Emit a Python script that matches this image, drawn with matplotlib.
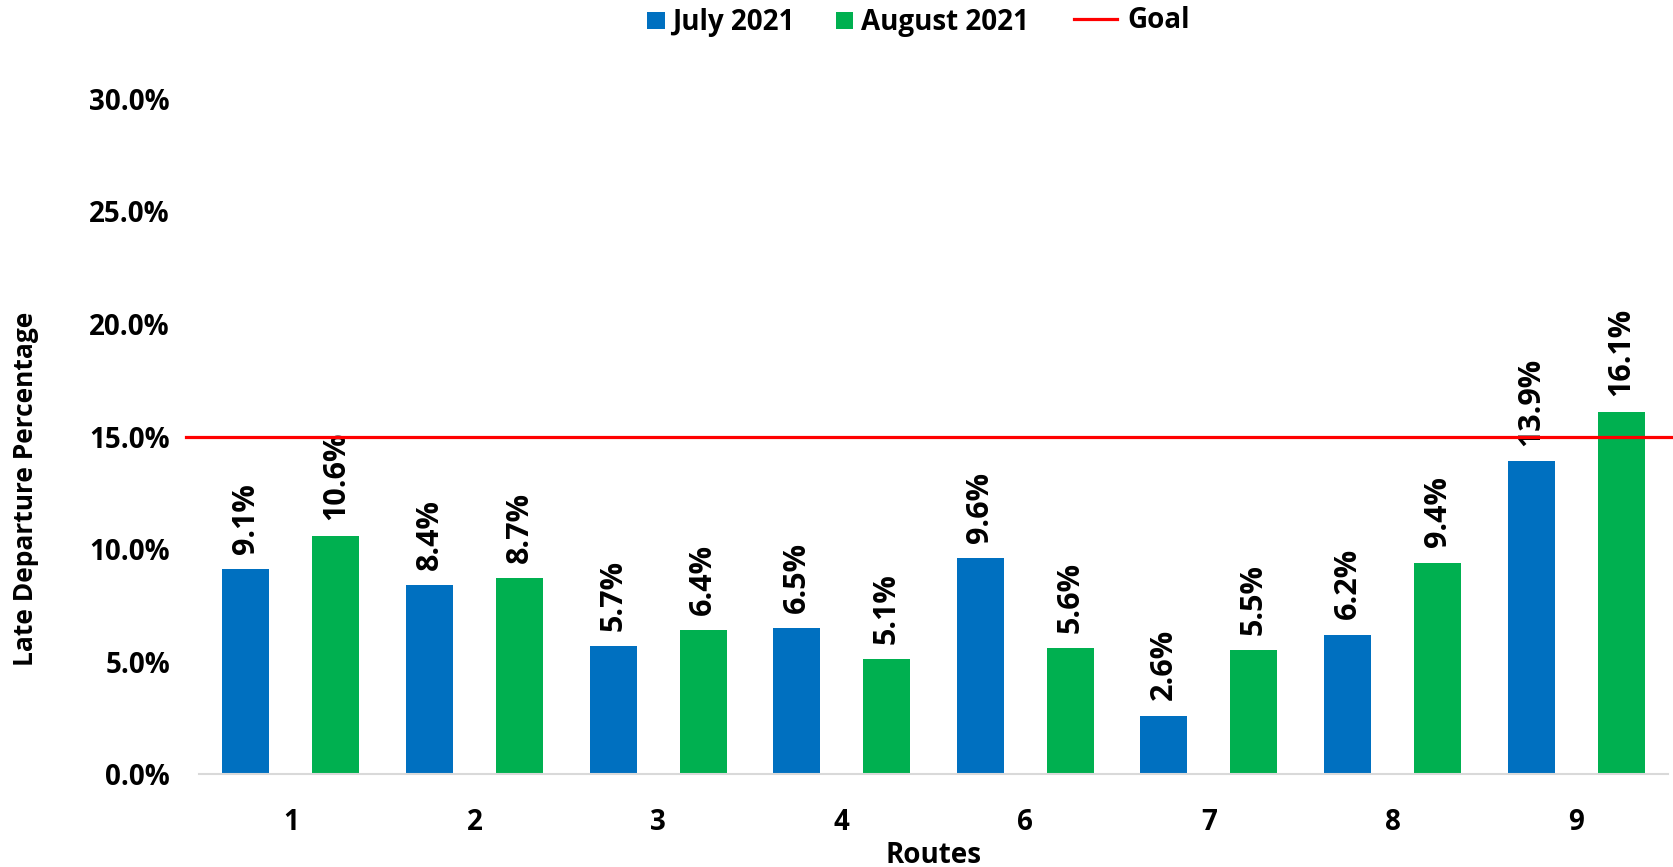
import matplotlib
matplotlib.use("Agg")
import matplotlib.pyplot as plt
from matplotlib.patches import Patch, Rectangle
from matplotlib.lines import Line2D
from matplotlib.legend_handler import HandlerPatch
import numpy as np

routes = ["1", "2", "3", "4", "6", "7", "8", "9"]
july = [9.1, 8.4, 5.7, 6.5, 9.6, 2.6, 6.2, 13.9]
august = [10.6, 8.7, 6.4, 5.1, 5.6, 5.5, 9.4, 16.1]
goal = 15.0
yticks = [0, 5, 10, 15, 20, 25, 30]

plt.rcParams['font.family'] = ['Open Sans', 'DejaVu Sans']
plt.rcParams['font.weight'] = 'bold'

BLUE = "#0070c0"
GREEN = "#00b050"
RED = "#ff0000"
FS = 20


class SquareHandler(HandlerPatch):
    def create_artists(self, legend, orig_handle, xdescent, ydescent,
                       width, height, fontsize, trans):
        s = 12.3
        p = Rectangle((-xdescent + width - s, -ydescent + (height - s) / 2), s, s,
                      facecolor=orig_handle.get_facecolor(), edgecolor="none",
                      transform=trans)
        return [p]


fig = plt.figure(figsize=(16.73, 8.67), dpi=100)
ax = fig.add_axes([0.119, 0.107, 0.878, 0.779])

x = np.arange(len(routes))
off = 0.245
w = 0.256
b1 = ax.bar(x - off, july, w, color=BLUE, zorder=2)
b2 = ax.bar(x + off, august, w, color=GREEN, zorder=2)

for bars, vals in ((b1, july), (b2, august)):
    for r, v in zip(bars, vals):
        ax.annotate(f"{v:.1f}%", (r.get_x() + r.get_width() / 2, v),
                    xytext=(0, 11), textcoords="offset points",
                    rotation=90, ha="center", va="bottom",
                    fontsize=22, fontweight="bold", color="black")

ax.axhline(goal, xmin=-0.009, xmax=1.01, color=RED, lw=2.3, clip_on=False, zorder=3)

ax.set_xlim(-0.5, len(routes) - 0.5)
ax.set_ylim(0, 30)
ax.set_yticks(yticks)
ax.set_yticklabels([f"{t:.1f}%" for t in yticks])
ax.set_xticks(x)
ax.set_xticklabels(routes)
ax.tick_params(axis="both", length=0, labelsize=FS)
ax.tick_params(axis="y", pad=21)
ax.tick_params(axis="x", pad=24)
for lab in ax.get_xticklabels() + ax.get_yticklabels():
    lab.set_fontweight("bold")

for s in ("top", "right", "left"):
    ax.spines[s].set_visible(False)
ax.spines["bottom"].set_color("#d9d9d9")
ax.spines["bottom"].set_linewidth(1.5)

ax.set_xlabel("Routes", fontsize=FS, fontweight="bold", labelpad=3)
ax.set_ylabel("Late Departure Percentage", fontsize=19, fontweight="bold")
ax.yaxis.set_label_coords(-0.109, 0.4225)

bar_handles = [Patch(color=BLUE, label="July 2021"),
               Patch(color=GREEN, label="August 2021")]
fig.legend(handles=bar_handles, loc="center left", bbox_to_anchor=(0.387, 0.974), ncol=2,
           frameon=False, handlelength=0.615, handleheight=0.7,
           handletextpad=0.27, columnspacing=1.5, borderpad=0, borderaxespad=0,
           handler_map={Patch: SquareHandler()},
           prop={"weight": "bold", "size": FS})
goal_handle = [Line2D([0], [0], color=RED, lw=2.3, label="Goal")]
fig.legend(handles=goal_handle, loc="center left", bbox_to_anchor=(0.642, 0.976),
           frameon=False, handlelength=1.55, handletextpad=0.385,
           borderpad=0, borderaxespad=0,
           prop={"weight": "bold", "size": FS})

fig.savefig("out.png", dpi=100)
